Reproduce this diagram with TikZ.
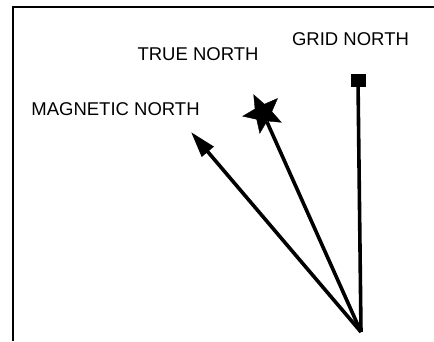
\documentclass[tikz,border=0pt]{standalone}
\usepackage{fontspec}
\setmainfont{Liberation Sans}
\usetikzlibrary{shapes.geometric,arrows.meta,positioning}

\tikzset{
    northlabel/.style={font=\fontsize{18.5}{20}\selectfont, anchor=base, inner sep=0pt},
    northline/.style={line width=3.6pt},
}

\begin{document}
\begin{tikzpicture}[x=1pt, y=-1pt, >={Triangle[length=26pt, width=15pt]}]
        \useasboundingbox (0,0) rectangle (434,341);
        % open frame
        \draw[line width=2pt] (13,341) -- (13,7) -- (434,7);

        % labels
        \node[northlabel] (gridlbl) at (350.5,45) {GRID NORTH};
        \node[northlabel] (truelbl) at (198,60) {TRUE NORTH};
        \node[northlabel] (maglbl) at (115.5,115) {MAGNETIC NORTH};

        % common origin and the three end marks
        \coordinate (o) at (361,332);
        \node[draw, fill=black, rectangle, minimum width=14pt, minimum height=12pt, inner sep=0pt] (grid) at (358,80) {};
        \node[draw, fill=black, star, star points=5, star point ratio=2.3, minimum size=41pt, inner sep=0pt, shape border rotate=27] (true) at (263,113) {};
        \coordinate (mag) at (191,132);

        % the three norths
        \draw[northline] (o) -- (grid);
        \draw[northline] (o) -- (true);
        \draw[northline, ->] (o) -- (mag);
    \end{tikzpicture}
\end{document}
